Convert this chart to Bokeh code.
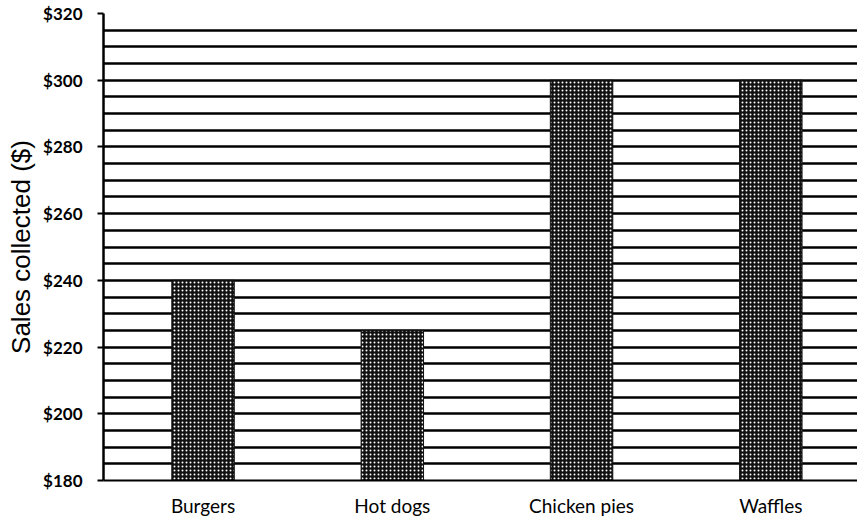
from bokeh.plotting import figure
from bokeh.models import Range1d, SingleIntervalTicker, FixedTicker, ColumnDataSource
from bokeh.embed import file_html
from bokeh.resources import INLINE

categories = ["Burgers", "Hot dogs", "Chicken pies", "Waffles"]
sales = [240, 225, 300, 300]
y_ticks = [180, 200, 220, 240, 260, 280, 300, 320]
y_tick_labels = ["$180", "$200", "$220", "$240", "$260", "$280", "$300", "$320"]
grid_step = 5

positions = list(range(len(categories)))
source = ColumnDataSource(dict(x=positions, cat=categories, val=sales))

p = figure(
    width=857, height=519,
    x_range=Range1d(-0.526, 3.458),
    y_range=Range1d(180, 320),
    output_backend="svg", toolbar_location=None,
    min_border_left=103, min_border_right=0, min_border_top=13, min_border_bottom=20,
)
p.outline_line_color = None
p.background_fill_color = "white"
p.border_fill_color = "white"

p.vbar(x="x", top="val", bottom=180, width=0.33, source=source,
       fill_color="#111111", line_color="#111111", line_width=1,
       hatch_pattern="dot", hatch_color="white", hatch_scale=4, hatch_weight=1.8)

# grid
p.xgrid.grid_line_color = None
p.ygrid.ticker = SingleIntervalTicker(interval=grid_step)
p.ygrid.grid_line_color = "black"
p.ygrid.grid_line_width = 2.3

# y axis
p.yaxis.ticker = FixedTicker(ticks=y_ticks)
p.yaxis.major_label_overrides = {t: l for t, l in zip(y_ticks, y_tick_labels)}
p.yaxis.axis_line_color = "black"
p.yaxis.axis_line_width = 2.5
p.yaxis.major_tick_out = 6
p.yaxis.major_tick_in = 0
p.yaxis.major_tick_line_width = 2
p.yaxis.minor_tick_line_color = None
p.yaxis.major_label_text_font = "Lato"
p.yaxis.major_label_text_font_style = "bold"
p.yaxis.major_label_text_font_size = "17px"
p.yaxis.major_label_text_color = "black"
p.yaxis.major_label_standoff = 15
p.yaxis.axis_label = "Sales collected ($)"
p.yaxis.axis_label_text_font = "Liberation Sans"
p.yaxis.axis_label_text_font_style = "normal"
p.yaxis.axis_label_text_font_size = "26px"
p.yaxis.axis_label_text_color = "black"
p.yaxis.axis_label_standoff = 4

# x axis
p.xaxis.ticker = FixedTicker(ticks=positions)
p.xaxis.major_label_overrides = {i: c for i, c in zip(positions, categories)}
p.xaxis.axis_line_color = "black"
p.xaxis.axis_line_width = 2
p.xaxis.major_tick_out = 0
p.xaxis.major_tick_in = 0
p.xaxis.major_tick_line_color = None
p.xaxis.minor_tick_line_color = None
p.xaxis.major_label_text_font = "Lato"
p.xaxis.major_label_text_font_size = "19px"
p.xaxis.major_label_text_color = "black"
p.xaxis.major_label_standoff = 13

open("out.html", "w").write(file_html(p, INLINE))
